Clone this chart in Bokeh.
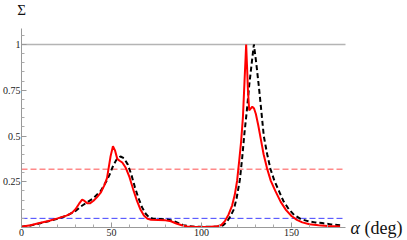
from bokeh.plotting import figure
from bokeh.models import Range1d, FixedTicker, CustomJSTickFormatter, LinearAxis
from bokeh.core.properties import value
from bokeh.embed import file_html
from bokeh.resources import INLINE

# ---- data ----
red_deg = [0, 5, 10, 15, 20, 25, 28, 30, 32, 33.7, 35, 36.5, 38, 40, 42, 44, 46, 47.5,
           48.5, 49.5, 50.8, 52, 53.2, 54.5, 56, 58, 60, 62, 64, 66, 68, 70, 72, 76, 80,
           83, 86, 89, 92, 96, 100, 105, 109, 111, 113, 115, 117, 118.5, 119.8, 121,
           122, 123, 123.9, 124.5, 124.8, 125.3, 125.8, 126.5, 127.3, 128.2, 129.2,
           130.2, 131.5, 133, 134.5, 136.5, 138.5, 141, 144, 147, 150, 153, 156, 160,
           165, 170, 177]
red_val = [0.004, 0.012, 0.025, 0.036, 0.05, 0.065, 0.08, 0.1, 0.13, 0.152, 0.145, 0.132,
           0.132, 0.146, 0.166, 0.19, 0.23, 0.27, 0.33, 0.39, 0.444, 0.42, 0.375, 0.365,
           0.355, 0.325, 0.275, 0.21, 0.15, 0.1, 0.065, 0.048, 0.042, 0.041, 0.039,
           0.034, 0.022, 0.012, 0.006, 0.004, 0.003, 0.004, 0.007, 0.014, 0.035, 0.07,
           0.12, 0.18, 0.257, 0.37, 0.47, 0.6, 0.8, 0.93, 1.0, 0.88, 0.75, 0.64, 0.65,
           0.66, 0.65, 0.62, 0.56, 0.48, 0.4, 0.32, 0.255, 0.2, 0.14, 0.095, 0.063,
           0.042, 0.028, 0.018, 0.012, 0.008, 0.006]

black_deg = [0, 5, 10, 15, 20, 25, 30, 33, 36, 40, 44, 47, 49, 51, 53, 55, 57, 59, 61,
             63, 65, 67, 69, 71, 73, 77, 81, 84, 87, 90, 93, 97, 105, 110, 112, 114, 116,
             118, 119.5, 121.3, 122.6, 123.9, 125.2, 126.5, 127.8, 129.1, 130.4, 131.8,
             133.2, 134.6, 136.5, 138.3, 140.5, 143, 145.5, 148.5, 151.5, 155, 159, 163,
             167, 172, 177]
black_val = [0.004, 0.011, 0.022, 0.034, 0.048, 0.064, 0.09, 0.115, 0.135, 0.16, 0.2,
             0.25, 0.29, 0.34, 0.375, 0.388, 0.378, 0.345, 0.29, 0.22, 0.16, 0.11, 0.075,
             0.055, 0.048, 0.046, 0.044, 0.038, 0.025, 0.013, 0.007, 0.004, 0.004, 0.006,
             0.012, 0.03, 0.06, 0.1, 0.16, 0.26, 0.38, 0.52, 0.64, 0.776, 0.89, 1.0, 0.9,
             0.776, 0.64, 0.5, 0.4, 0.32, 0.255, 0.2, 0.145, 0.1, 0.068, 0.047, 0.035,
             0.028, 0.024, 0.017, 0.012]

x_ticks = [0, 50, 100, 150]
x_minor_ticks = [10, 20, 30, 40, 60, 70, 80, 90, 110, 120, 130, 140, 160, 170]
y_ticks = [0.25, 0.5, 0.75, 1.0]
y_minor_ticks = [0.05, 0.1, 0.15, 0.2, 0.3, 0.35, 0.4, 0.45, 0.55, 0.6, 0.65, 0.7,
                 0.8, 0.85, 0.9, 0.95, 1.05]
unit_level = 1.0
dashed_levels = [0.318, 0.05]   # red dashed, blue dashed
x_axis_end = 180
y_axis_end = 1.09

# visible window (axes drawn inside it at x=0 / y=0)
x_view = (-11.667, 214.44)
y_view = (-0.071, 1.2404)

SERIF = "Liberation Serif"

p = figure(width=407, height=240, output_backend="svg", toolbar_location=None,
           x_range=Range1d(*x_view), y_range=Range1d(*y_view),
           x_axis_location=None, y_axis_location=None,
           min_border=0)
p.outline_line_color = None
p.grid.visible = False
p.background_fill_color = "white"
p.border_fill_color = "white"

xax = LinearAxis(fixed_location=0, bounds=(0, x_axis_end),
                 ticker=FixedTicker(ticks=x_ticks, minor_ticks=x_minor_ticks))
yax = LinearAxis(fixed_location=0, bounds=(0, y_axis_end),
                 ticker=FixedTicker(ticks=y_ticks, minor_ticks=y_minor_ticks),
                 formatter=CustomJSTickFormatter(code="return String(tick);"))
for ax in (xax, yax):
    ax.axis_line_color = "#999999"
    ax.axis_line_width = 1
    ax.major_tick_in = 5
    ax.major_tick_out = 0
    ax.minor_tick_in = 3
    ax.minor_tick_out = 0
    ax.major_tick_line_color = "#999999"
    ax.minor_tick_line_color = "#aaaaaa"
    ax.major_label_text_font = SERIF
    ax.major_label_text_font_size = "10px"
    ax.major_label_text_color = "#222222"
    ax.major_label_standoff = 1
p.add_layout(xax, "below")
p.add_layout(yax, "left")

p.segment(x0=[0], x1=[x_axis_end], y0=[unit_level], y1=[unit_level],
          line_color="#b4b4b4", line_width=1.5)
p.segment(x0=[0, 0], x1=[x_axis_end, x_axis_end], y0=dashed_levels, y1=dashed_levels,
          line_color=["#ff8a8a", "#4040ff"], line_width=[1.5, 1.0], line_dash="6 3")

p.line(black_deg, black_val, line_color="black", line_width=2, line_dash="5 3")
p.line(red_deg, red_val, line_color="#ff0000", line_width=2)

p.text(x=[0], y=[y_axis_end], text=["Σ"], y_offset=-18, text_font=value(SERIF),
       text_font_size="15px", text_align="center", text_baseline="middle",
       text_color="#111111")
p.text(x=[x_axis_end], y=[0], text=["α"], x_offset=5, text_font=value(SERIF),
       text_font_style="italic", text_font_size="18px", text_align="left",
       text_baseline="middle", text_color="#111111")
p.text(x=[x_axis_end], y=[0], text=["(deg)"], x_offset=19, text_font=value(SERIF),
       text_font_size="18px", text_align="left", text_baseline="middle",
       text_color="#111111")

open("out.html", "w").write(file_html(p, INLINE))
